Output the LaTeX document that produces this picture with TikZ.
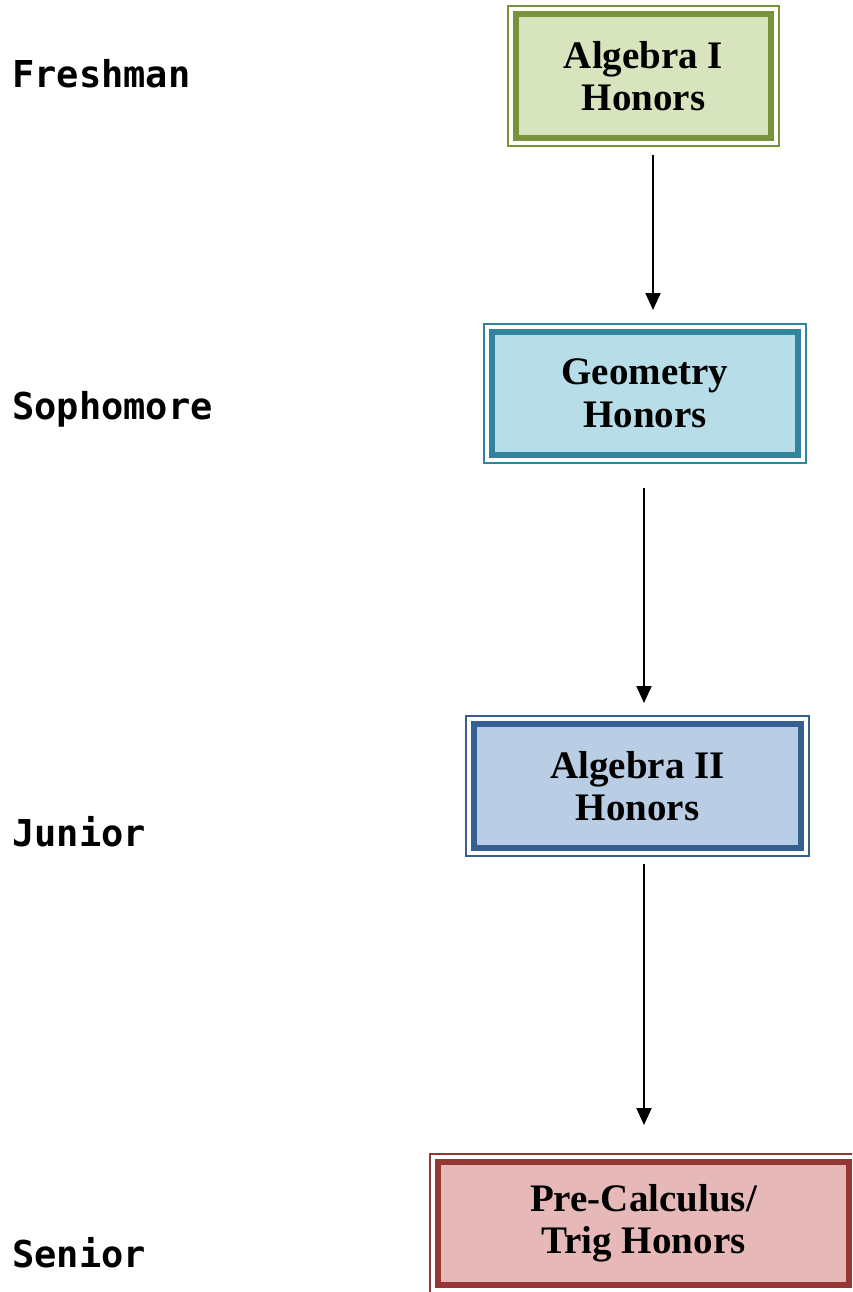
\documentclass[tikz,border=0pt]{standalone}
\usepackage{fontspec}
\setmainfont{Liberation Serif}
\newfontfamily\yearfont{DejaVu Sans Mono}
\usetikzlibrary{arrows.meta,calc}

\definecolor{grnfill}{HTML}{D7E4BD}
\definecolor{grnline}{HTML}{77933C}
\definecolor{aquafill}{HTML}{B7DEE8}
\definecolor{aqualine}{HTML}{31849B}
\definecolor{bluefill}{HTML}{B9CDE5}
\definecolor{blueline}{HTML}{376092}
\definecolor{redfill}{HTML}{E6B9B8}
\definecolor{redline}{HTML}{953735}

\tikzset{
  course/.style n args={2}{
    rectangle, draw=#2, fill=#1, line width=6pt, outer sep=0pt,
    align=center, text=black,
    font=\fontsize{39}{42.5}\selectfont\bfseries,
    append after command={
      \pgfextra{\draw[#2, line width=1.2pt]
        ($(\tikzlastnode.north west)+(-8,-8)$) rectangle
        ($(\tikzlastnode.south east)+(8,8)$);}
    }
  },
  year/.style={anchor=base west, inner sep=0pt,
    font=\yearfont\fontsize{37}{42}\selectfont\bfseries},
  flow/.style={line width=2pt, -{Triangle[length=17pt,width=15pt]}}
}

\begin{document}
\begin{tikzpicture}[x=1pt,y=-1pt]
  \useasboundingbox (0,0) rectangle (852,1292);
  \begin{scope}
    \clip (0,0) rectangle (852,1292);

    % course boxes
    \node[course={grnfill}{grnline}, minimum width=255pt, minimum height=124pt]
      (alg1) at (643.5,76) {Algebra I\\Honors};
    \node[course={aquafill}{aqualine}, minimum width=306pt, minimum height=123pt]
      (geo) at (645,393.5) {Geometry\\Honors};
    \node[course={bluefill}{blueline}, minimum width=327pt, minimum height=124pt]
      (alg2) at (637.5,786) {Algebra II\\Honors};
    \node[course={redfill}{redline}, minimum width=411pt, minimum height=123pt]
      (pre) at (643.5,1223.5) {Pre-Calculus/\\Trig Honors};
  \end{scope}

  % year labels
  \node[year] (fr) at (12,88) {Freshman};
  \node[year] (so) at (12,419) {Sophomore};
  \node[year] (ju) at (12,846) {Junior};
  \node[year] (se) at (12,1267) {Senior};

  % progression arrows
  \draw[flow] ([shift={(9.5,17)}]alg1.south) -- ([shift={(8,-22)}]geo.north);
  \draw[flow] ([shift={(-1,33)}]geo.south) -- ([shift={(6.5,-21)}]alg2.north);
  \draw[flow] ([shift={(6.5,16)}]alg2.south) -- ([shift={(0.5,-37)}]pre.north);
\end{tikzpicture}
\end{document}
